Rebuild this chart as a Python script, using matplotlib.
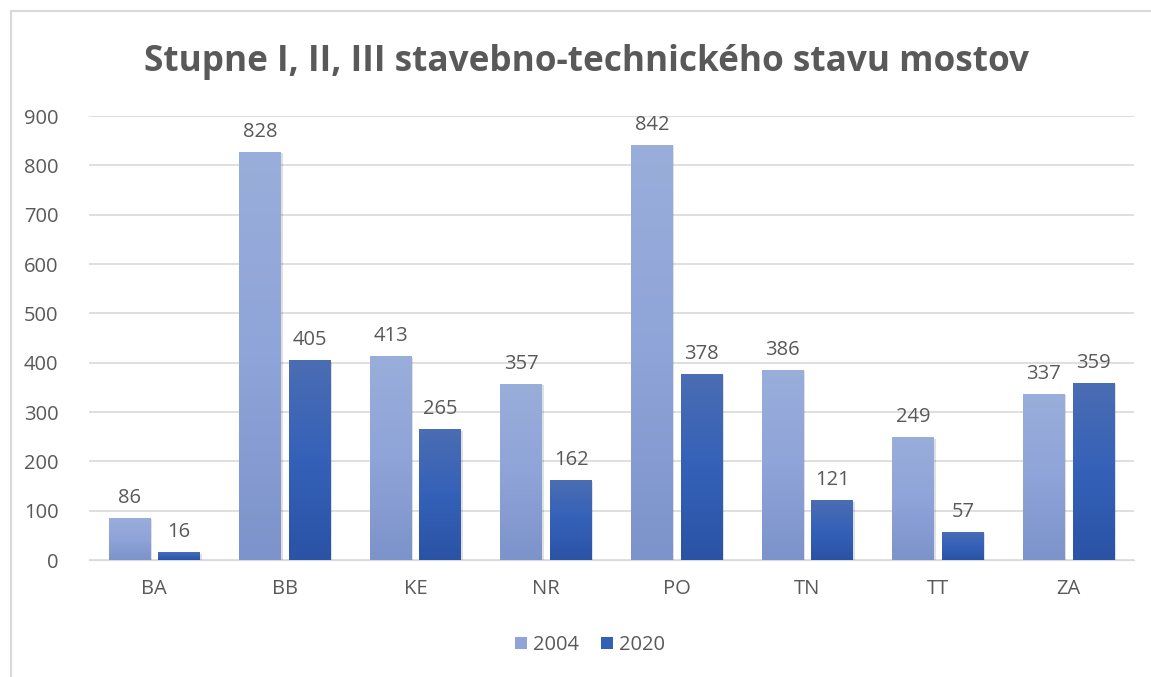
import numpy as np
import matplotlib.pyplot as plt
from matplotlib.colors import LinearSegmentedColormap
from matplotlib.patches import Rectangle
from matplotlib.lines import Line2D

plt.rcParams['font.family'] = ['Open Sans', 'DejaVu Sans']

# Bridges in structural-technical condition grades I, II, III by region
regions = ['BA', 'BB', 'KE', 'NR', 'PO', 'TN', 'TT', 'ZA']
y2004 = [86, 828, 413, 357, 842, 386, 249, 337]
y2020 = [16, 405, 265, 162, 378, 121, 57, 359]

grey = '#595959'
cmap04 = LinearSegmentedColormap.from_list('c04', ['#7c93cb', '#8fa4d8', '#9aaedb'])
cmap20 = LinearSegmentedColormap.from_list('c20', ['#2a53a5', '#3461b8', '#4b6db3'])

fig = plt.figure(figsize=(11.51, 6.77), dpi=100)
# outer chart border (only left and top edges are inside the crop)
fig.lines.append(Line2D([11 / 1151, 11 / 1151, 1.0], [0.0, 1 - 11 / 677, 1 - 11 / 677],
                        transform=fig.transFigure, color='#d9d9d9', lw=1.5))
ax = fig.add_axes([89 / 1151, 117 / 677, 1045 / 1151, 444 / 677])

x = np.arange(len(regions))
w = 0.32
off = 0.19
grad = np.linspace(0, 1, 256).reshape(-1, 1)


def gbar(xc, h, cmap):
    # shadow then gradient-filled bar
    ax.add_patch(Rectangle((xc - w / 2 + 0.012, 0), w, h - 3, facecolor='#000000',
                           alpha=0.12, lw=0, zorder=2))
    im = ax.imshow(grad, cmap=cmap, aspect='auto', origin='lower',
                   extent=[xc - w / 2, xc + w / 2, 0, h], zorder=3)
    clip = Rectangle((xc - w / 2, 0), w, h, transform=ax.transData)
    im.set_clip_path(clip)


for i in range(len(regions)):
    gbar(x[i] - off, y2004[i], cmap04)
    gbar(x[i] + off, y2020[i], cmap20)
    ax.text(x[i] - off, y2004[i] + 20, str(y2004[i]), ha='center', va='bottom',
            fontsize=14.5, color=grey, zorder=4)
    ax.text(x[i] + off, y2020[i] + 20, str(y2020[i]), ha='center', va='bottom',
            fontsize=14.5, color=grey, zorder=4)

ax.set_xlim(-0.5, len(regions) - 0.5)
ax.set_ylim(0, 900)
ax.set_yticks(range(0, 901, 100))
ax.set_xticks(x)
ax.set_xticklabels(regions)
ax.tick_params(axis='both', length=0, labelsize=14.5, colors=grey)
ax.tick_params(axis='x', pad=14)
ax.tick_params(axis='y', pad=22)
ax.grid(axis='y', color='#d9d9d9', lw=1.2, zorder=0)
ax.set_axisbelow(True)
for s in ax.spines.values():
    s.set_visible(False)
ax.spines['bottom'].set_visible(True)
ax.spines['bottom'].set_color('#d9d9d9')

fig.text(586 / 1151, 1 - 62 / 677, 'Stupne I, II, III stavebno-technického stavu mostov',
         ha='center', va='center', fontsize=25.3, fontweight='bold', color=grey)

# legend
handles = [Rectangle((0, 0), 1, 1, facecolor='#8fa4d8'),
           Rectangle((0, 0), 1, 1, facecolor='#3461b8')]
fig.legend(handles, ['2004', '2020'], loc='center', bbox_to_anchor=(590 / 1151, 1 - 645 / 677),
           ncol=2, frameon=False, fontsize=14.5, labelcolor=grey, handlelength=0.6,
           handleheight=0.6, handletextpad=0.3, columnspacing=1.1)

fig.savefig('out.png', dpi=100)
